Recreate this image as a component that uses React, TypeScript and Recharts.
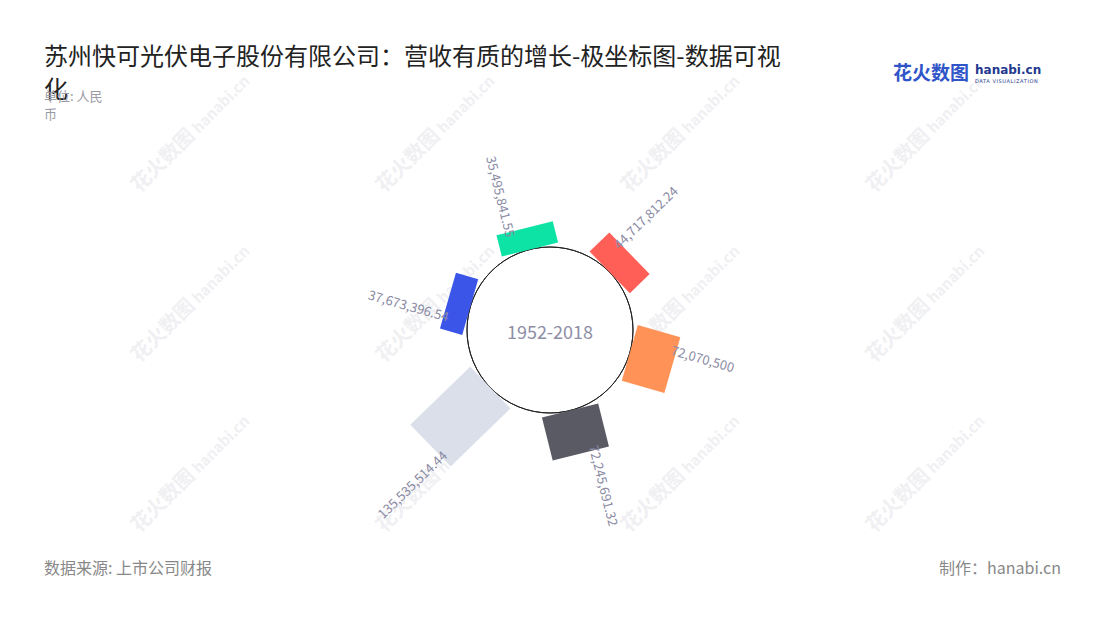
import { RadialBarChart, RadialBar, PolarAngleAxis, PolarRadiusAxis, PolarGrid } from 'recharts';

const years = ['2013', '2014', '2015', '2016', '2017', '2018'];
const revenue = [35495841.55, 44717812.24, 72070500, 72245691.32, 135535514.44, 37673396.54];
const colors = ['#0ce3a5', '#ff5f57', '#ff9357', '#5a5a65', '#dadfe9', '#3a55e8'];

const data = years.map((name, i) => ({ name, value: revenue[i], fill: colors[i] }));

const FONT = '"Noto Sans CJK SC", "Noto Sans", sans-serif';
const RAD = Math.PI / 180;
const HALF_W = 29;

const fmt = (v: number) => v.toLocaleString('en-US', { maximumFractionDigits: 2 });

// rectangle standing on the circle, plus its rotated value label
function BarShape(props: any) {
  const { cx, cy, innerRadius, outerRadius, startAngle, endAngle, payload } = props;
  const mid = (startAngle + endAngle) / 2;
  const ux = Math.cos(mid * RAD);
  const uy = -Math.sin(mid * RAD);
  const vx = -Math.sin(mid * RAD);
  const vy = -Math.cos(mid * RAD);
  const pt = (r: number, s: number) => `${cx + ux * r + vx * s},${cy + uy * r + vy * s}`;
  const pts = [pt(innerRadius, HALF_W), pt(outerRadius, HALF_W), pt(outerRadius, -HALF_W), pt(innerRadius, -HALF_W)].join(' ');

  const lr = outerRadius - 5;
  const lx = cx + ux * lr + vx * 15;
  const ly = cy + uy * lr + vy * 15;
  const outward = ux > 0;
  const rot = outward ? -mid : 180 - mid;

  return (
    <g>
      <polygon points={pts} fill={payload.fill} />
      <text
        x={lx}
        y={ly}
        transform={`rotate(${rot} ${lx} ${ly})`}
        textAnchor={outward ? 'start' : 'end'}
        dominantBaseline="central"
        fontSize={13}
        fontFamily={FONT}
        fill="#8a8aa3"
      >
        {fmt(payload.value)}
      </text>
    </g>
  );
}

const wmCols = [145, 390, 635, 880];
const wmRows = [183, 353, 523];

export default function App() {
  return (
    <div style={{ position: 'absolute', left: 0, top: 0, width: 1100, height: 620, background: '#fff', fontFamily: FONT, overflow: 'hidden' }}>
      {wmRows.map((y) =>
        wmCols.map((x) => (
          <div
            key={`${x}-${y}`}
            style={{
              position: 'absolute',
              left: x,
              top: y - 14,
              transform: 'rotate(-45deg)',
              transformOrigin: '0 100%',
              whiteSpace: 'nowrap',
              color: '#f0f0f3',
              lineHeight: '28px',
            }}
          >
            <span style={{ fontSize: 20, fontWeight: 700 }}>花火数图</span>
            <span style={{ fontSize: 15, fontWeight: 700, marginLeft: 4 }}>hanabi.cn</span>
          </div>
        ))
      )}

      <div style={{ position: 'absolute', left: 0, top: 0 }}>
        <RadialBarChart
          width={1100}
          height={620}
          data={data}
          layout="centric"
          cx={550}
          cy={330}
          innerRadius={83}
          outerRadius={169}
          startAngle={74}
          endAngle={-286}
          margin={{ top: 0, right: 0, bottom: 0, left: 0 }}
        >
          <PolarGrid gridType="circle" radialLines={false} polarRadius={[83]} stroke="#222" fill="#fff" />
          <PolarAngleAxis type="category" dataKey="name" tick={false} axisLine={false} tickLine={false} />
          <PolarRadiusAxis type="number" domain={[0, 140000000]} tick={false} axisLine={false} tickLine={false} />
          <RadialBar dataKey="value" isAnimationActive={false} shape={BarShape} />
        </RadialBarChart>
      </div>

      <div style={{ position: 'absolute', left: 0, width: 1100, top: 318, textAlign: 'center', fontSize: 18, lineHeight: '26px', color: '#8e8ea6' }}>
        1952-2018
      </div>

      <div style={{ position: 'absolute', left: 44, top: 38, width: 750, fontSize: 24, lineHeight: '33px', color: '#222' }}>
        苏州快可光伏电子股份有限公司：营收有质的增长-极坐标图-数据可视化
      </div>
      <div style={{ position: 'absolute', left: 44, top: 87, width: 70, fontSize: 13, lineHeight: '18px', color: '#9a9aa6' }}>
        单位: 人民币
      </div>

      <div style={{ position: 'absolute', left: 893, top: 60, whiteSpace: 'nowrap', fontSize: 19, fontWeight: 700, color: '#2f55c8', lineHeight: '24px' }}>
        花火数图
      </div>
      <div style={{ position: 'absolute', left: 975, top: 64, whiteSpace: 'nowrap', fontSize: 12, fontWeight: 700, color: '#23398f', lineHeight: '12px', fontFamily: '"DejaVu Sans", sans-serif' }}>
        hanabi.cn
      </div>
      <div style={{ position: 'absolute', left: 975, top: 78, whiteSpace: 'nowrap', fontSize: 5, color: '#23398f', lineHeight: '6px', letterSpacing: 0.6, fontFamily: '"DejaVu Sans", sans-serif' }}>
        DATA VISUALIZATION
      </div>

      <div style={{ position: 'absolute', left: 44, top: 555, fontSize: 16, lineHeight: '24px', color: '#888' }}>
        数据来源: 上市公司财报
      </div>
      <div style={{ position: 'absolute', right: 39, top: 555, fontSize: 16, lineHeight: '24px', color: '#888' }}>
        制作：hanabi.cn
      </div>
    </div>
  );
}
